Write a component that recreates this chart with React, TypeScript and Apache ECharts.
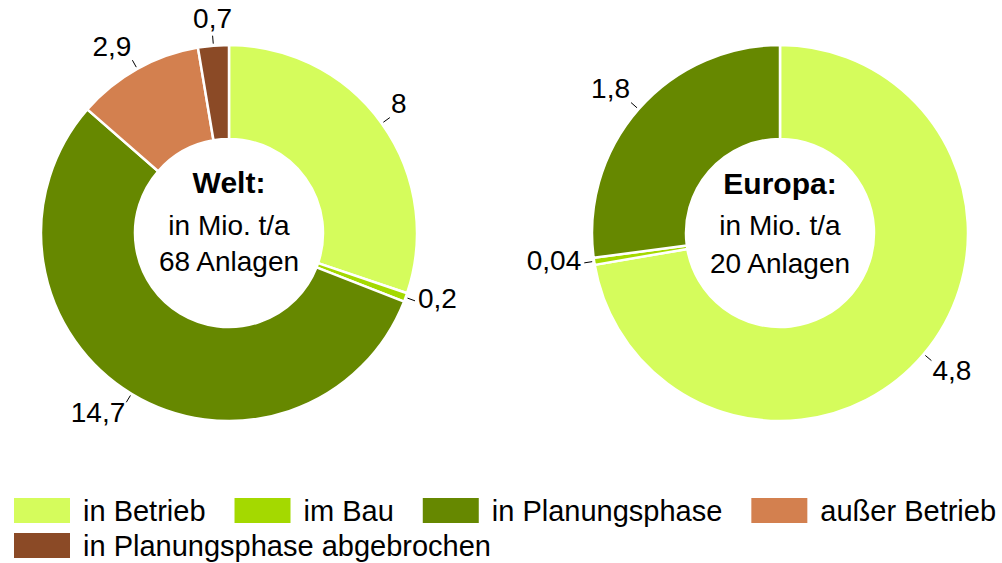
import React, { useEffect, useRef } from "react";
import * as echarts from "echarts";

const categories = [
  "in Betrieb",
  "im Bau",
  "in Planungsphase",
  "außer Betrieb",
  "in Planungsphase abgebrochen",
];
const colors = ["#d5fc5c", "#a4d900", "#668800", "#d3804f", "#8b4a26"];
const weltValues = [8, 0.2, 14.7, 2.9, 0.7];
const europaValues = [4.8, 0.04, 1.8];
const weltCenter = ["Welt:", "in Mio. t/a", "68 Anlagen"];
const europaCenter = ["Europa:", "in Mio. t/a", "20 Anlagen"];

const FONT = "'Liberation Sans', Arial, sans-serif";

function buildData(values: number[]) {
  return values.map((v, i) => ({
    name: categories[i],
    value: v,
    itemStyle: { color: colors[i] },
  }));
}

const clamp01 = (v: number) => Math.max(0, Math.min(1, v));

// Excel-like placement: short radial leader line, label box touching its end
function excelLabelLayout(params: any) {
  const pts = params.labelLinePoints;
  if (!pts || pts.length < 2) return {};
  const p0 = pts[0];
  const p1 = pts[1];
  let dx = p1[0] - p0[0];
  let dy = p1[1] - p0[1];
  const len = Math.sqrt(dx * dx + dy * dy) || 1;
  dx /= len;
  dy /= len;
  const start = [p0[0] + dx * 2, p0[1] + dy * 2];
  const end = [p0[0] + dx * 10, p0[1] + dy * 10];
  const hw = params.labelRect.width / 2 + 1;
  const hh = 12;
  const fx = clamp01((Math.abs(dx) - 0.1) / 0.3) * Math.sign(dx);
  const fy = clamp01((Math.abs(dy) - 0.35) / 0.2) * Math.sign(dy);
  let ox = hw * fx;
  let oy = hh * fy;
  if (fx === 0) oy = (hh + 3) * Math.sign(dy);
  if (fy === 0) ox = (hw + 2) * Math.sign(dx);
  return {
    x: end[0] + ox,
    y: end[1] + oy - 2,
    align: "center",
    verticalAlign: "middle",
    labelLinePoints: [start, end, end],
  };
}

function pieSeries(values: number[], cx: number) {
  return {
    type: "pie",
    center: [cx, 233],
    radius: [94, 188],
    startAngle: 90,
    clockwise: true,
    avoidLabelOverlap: false,
    itemStyle: { borderColor: "#ffffff", borderWidth: 2.5 },
    label: {
      show: true,
      position: "outside",
      formatter: (p: any) => String(p.value).replace(".", ","),
      fontFamily: FONT,
      fontSize: 28,
      color: "#000",
    },
    labelLine: {
      show: true,
      length: 10,
      length2: 0,
      smooth: false,
      lineStyle: { color: "#000", width: 1 },
    },
    labelLayout: excelLabelLayout,
    emphasis: { disabled: true },
    data: buildData(values),
  };
}

function centerTexts(lines: string[], cx: number, ys: number[]) {
  return lines.map((t, i) => ({
    type: "text",
    x: cx,
    y: ys[i],
    style: {
      text: t,
      fontFamily: FONT,
      fontSize: i === 0 ? 30 : 28,
      fontWeight: i === 0 ? "bold" : "normal",
      fill: "#000",
      textAlign: "center",
      textVerticalAlign: "middle",
    },
  }));
}

export default function App() {
  const ref = useRef<HTMLDivElement>(null);
  useEffect(() => {
    if (!ref.current) return;
    const chart = echarts.init(ref.current, null, { renderer: "svg" });
    const legendCommon = {
      left: 12,
      padding: 0,
      orient: "horizontal",
      icon: "rect",
      itemWidth: 58,
      itemHeight: 27,
      itemGap: 27,
      selectedMode: false,
      textStyle: {
        fontFamily: FONT,
        fontSize: 29,
        color: "#000",
        padding: [0, 0, 0, 7],
      },
    };
    chart.setOption({
      animation: false,
      backgroundColor: "#ffffff",
      legend: [
        { ...legendCommon, top: 496, data: categories.slice(0, 4) },
        { ...legendCommon, top: 531, data: categories.slice(4) },
      ],
      series: [pieSeries(weltValues, 229), pieSeries(europaValues, 780)],
      graphic: [
        ...centerTexts(weltCenter, 229, [182, 225, 261]),
        ...centerTexts(europaCenter, 780, [183, 225, 263]),
      ],
    });
    return () => chart.dispose();
  }, []);
  return (
    <div
      ref={ref}
      style={{ position: "fixed", left: 0, top: 0, width: 1002, height: 563 }}
    />
  );
}
